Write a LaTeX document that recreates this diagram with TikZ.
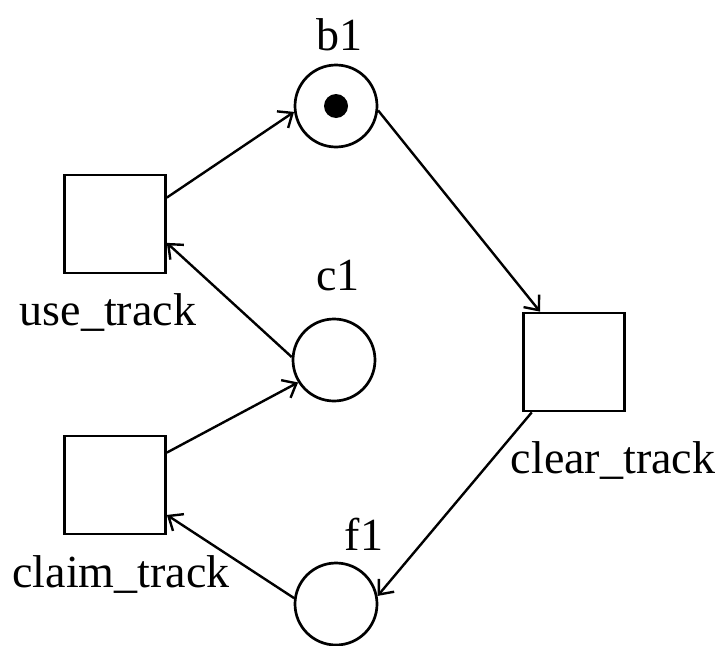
\documentclass[tikz,border=0pt]{standalone}
\usepackage{fontspec}
\setmainfont{Liberation Serif}
\usetikzlibrary{arrows.meta}
\begin{document}
\begin{tikzpicture}[x=1pt,y=-1pt,
  place/.style={circle,draw,line width=2.7pt,minimum size=82pt,inner sep=0pt},
  trans/.style={rectangle,draw,line width=2.7pt,minimum width=101pt,minimum height=98pt,inner sep=0pt},
  arc/.style={line width=2.4pt,-{Straight Barb[length=12pt,width=20pt,line width=2.4pt]}},
  lbl/.style={anchor=base,font=\fontsize{46}{50}\selectfont,inner sep=0pt}]
\useasboundingbox (0,0) rectangle (722,645);
% places
\node[place] (b1) at (336,106) {};
\node[place] (c1) at (334,360) {};
\node[place] (f1) at (336,604) {};
\fill (b1.center) circle (12pt);
% transitions
\node[trans] (use) at (115,224) {};
\node[trans] (claim) at (115,485) {};
\node[trans] (clear) at (574,362) {};
% labels
\node[lbl] (lb1) at (339,50) {b1};
\node[lbl] (lc1) at (338,290) {c1};
\node[lbl] (lf1) at (364,550) {f1};
\node[lbl] (luse) at (108,325) {use\_track};
\node[lbl] (lclaim) at (121,587) {claim\_track};
\node[lbl] (lclear) at (613,473) {clear\_track};
% arcs
\draw[arc] (use.27) -- (b1.188);
\draw[arc] (c1.176) -- (use.340);
\draw[arc] (claim.32) -- (c1.212);
\draw[arc] (f1.172) -- (claim.330);
\draw[arc] (b1.354) -- (clear.124);
\draw[arc] (clear.230) -- (f1.11);
\end{tikzpicture}
\end{document}
